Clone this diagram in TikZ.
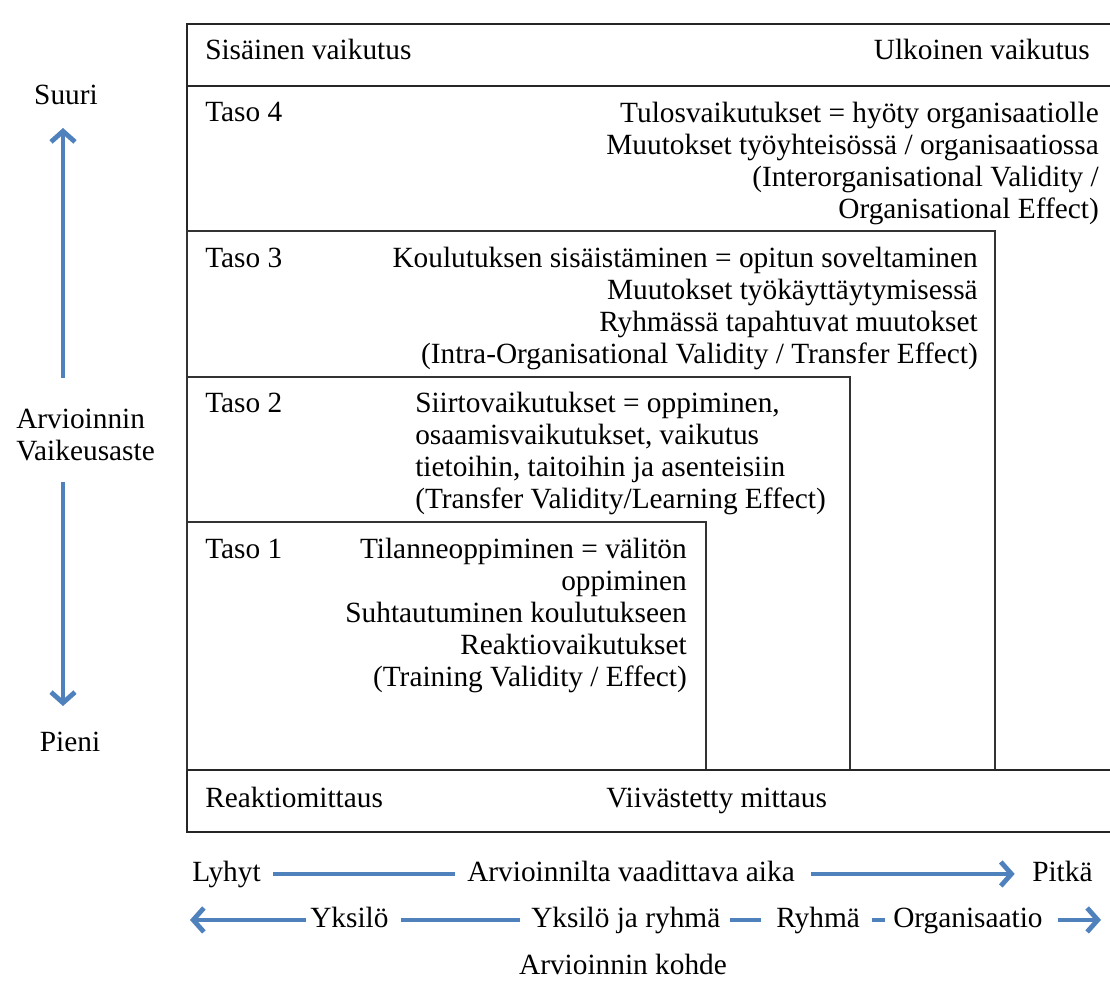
\documentclass[tikz,border=0pt]{standalone}
\usepackage{fontspec}
\setmainfont{Liberation Serif}
\usetikzlibrary{arrows.meta}
\definecolor{arrowblue}{RGB}{79,129,189}
\begin{document}
\begin{tikzpicture}[x=0.75pt,y=-0.75pt,
  txt/.style={inner sep=0pt,font=\fontsize{22}{24}\selectfont},
  frame/.style={draw=black!85,line width=1.4pt},
  inbox/.style={draw=black!80,line width=1pt},
  blue/.style={draw=arrowblue,line width=3.6pt},
  bluearrow/.style={blue,-{Straight Barb[length=8pt,width=18pt]}},
  lbl/.style={txt}]
\useasboundingbox (0,0) rectangle (1110,981);
\fill[white] (0,0) rectangle (1110,981);
% outer frame
\draw[frame] (1120,24) -- (187,24) -- (187,832) -- (1120,832);
\draw[frame] (187,86) -- (1120,86);
% level boxes
\draw[inbox] (187,231) rectangle (995,770);
\draw[inbox] (187,377) rectangle (850,770);
\draw[inbox] (187,522) rectangle (706,770);
\draw[draw=black!85,line width=2.2pt] (187,770) -- (1120,770);
% header
\node[txt,anchor=base west] (sis) at (205,60) {Sisäinen vaikutus};
\node[txt,anchor=base east] (ulk) at (1090,60) {Ulkoinen vaikutus};
% Taso 4 (base = last line)
\node[txt,anchor=base west] (t4) at (205,122) {Taso 4};
\node[txt,anchor=base east,align=right] (t4txt) at (1099,218) {Tulosvaikutukset = hyöty organisaatiolle\\Muutokset työyhteisössä / organisaatiossa\\(Interorganisational Validity /\\Organisational Effect)};
% Taso 3
\node[txt,anchor=base west] (t3) at (205,267) {Taso 3};
\node[txt,anchor=base east,align=right] (t3txt) at (978,363) {Koulutuksen sisäistäminen = opitun soveltaminen\hspace{5pt}\\Muutokset työkäyttäytymisessä\\Ryhmässä tapahtuvat muutokset\\(Intra-Organisational Validity / Transfer Effect)};
% Taso 2
\node[txt,anchor=base west] (t2) at (205,412) {Taso 2};
\node[txt,anchor=base west,align=left] (t2txt) at (415,508) {Siirtovaikutukset = oppiminen,\\osaamisvaikutukset, vaikutus\\tietoihin, taitoihin ja asenteisiin\\(Transfer Validity/Learning Effect)};
% Taso 1
\node[txt,anchor=base west] (t1) at (205,558) {Taso 1};
\node[txt,anchor=base east,align=right] (t1txt) at (687,686) {Tilanneoppiminen = välitön\\oppiminen\\Suhtautuminen koulutukseen\\Reaktiovaikutukset\\(Training Validity / Effect)};
% bottom row of frame
\node[txt,anchor=base west] (reak) at (205,807) {Reaktiomittaus};
\node[txt,anchor=base west] (viiv) at (606,807) {Viivästetty mittaus};
% left axis
\node[txt,anchor=base] (suuri) at (66,104) {Suuri};
\node[txt,anchor=base west,align=left] (vaik) at (16,460) {Arvioinnin\\Vaikeusaste};
\node[txt,anchor=base] (pieni) at (70,751) {Pieni};
\draw[bluearrow] (63,378) -- (63,128);
\draw[bluearrow] (63,482) -- (63,706);
% time axis
\node[lbl,anchor=base west] (lyhyt) at (192,881) {Lyhyt};
\node[lbl,anchor=base west] (aika) at (467,881) {Arvioinnilta vaadittava aika};
\node[lbl,anchor=base west] (pitka) at (1032,881) {Pitkä};
\draw[blue] ([xshift=9pt,yshift=3pt]lyhyt.mid east) -- ([xshift=-9pt,yshift=3pt]aika.mid west);
\draw[bluearrow] ([xshift=12pt,yshift=3pt]aika.mid east) -- ([xshift=-13pt,yshift=3pt]pitka.mid west);
% target axis
\node[lbl,anchor=base west] (yks) at (310,927) {Yksilö};
\node[lbl,anchor=base west] (yjr) at (531,927) {Yksilö ja ryhmä};
\node[lbl,anchor=base west] (ryh) at (776,927) {Ryhmä};
\node[lbl,anchor=base west] (org) at (893,927) {Organisaatio};
\coordinate (leftend) at ([yshift=3pt]yks.mid -| 190,0);
\coordinate (rightend) at ([yshift=3pt]org.mid -| 1101,0);
\draw[bluearrow] ([xshift=-3pt,yshift=3pt]yks.mid west) -- (leftend);
\draw[blue] ([xshift=9pt,yshift=3pt]yks.mid east) -- ([xshift=-8pt,yshift=3pt]yjr.mid west);
\draw[blue] ([xshift=7pt,yshift=3pt]yjr.mid east) -- ([xshift=-11pt,yshift=3pt]ryh.mid west);
\draw[blue] ([xshift=9pt,yshift=3pt]ryh.mid east) -- ([xshift=-6pt,yshift=3pt]org.mid west);
\draw[bluearrow] ([xshift=11pt,yshift=3pt]org.mid east) -- (rightend);
\node[txt,anchor=base] (kohde) at (623,974) {Arvioinnin kohde};
\end{tikzpicture}
\end{document}
